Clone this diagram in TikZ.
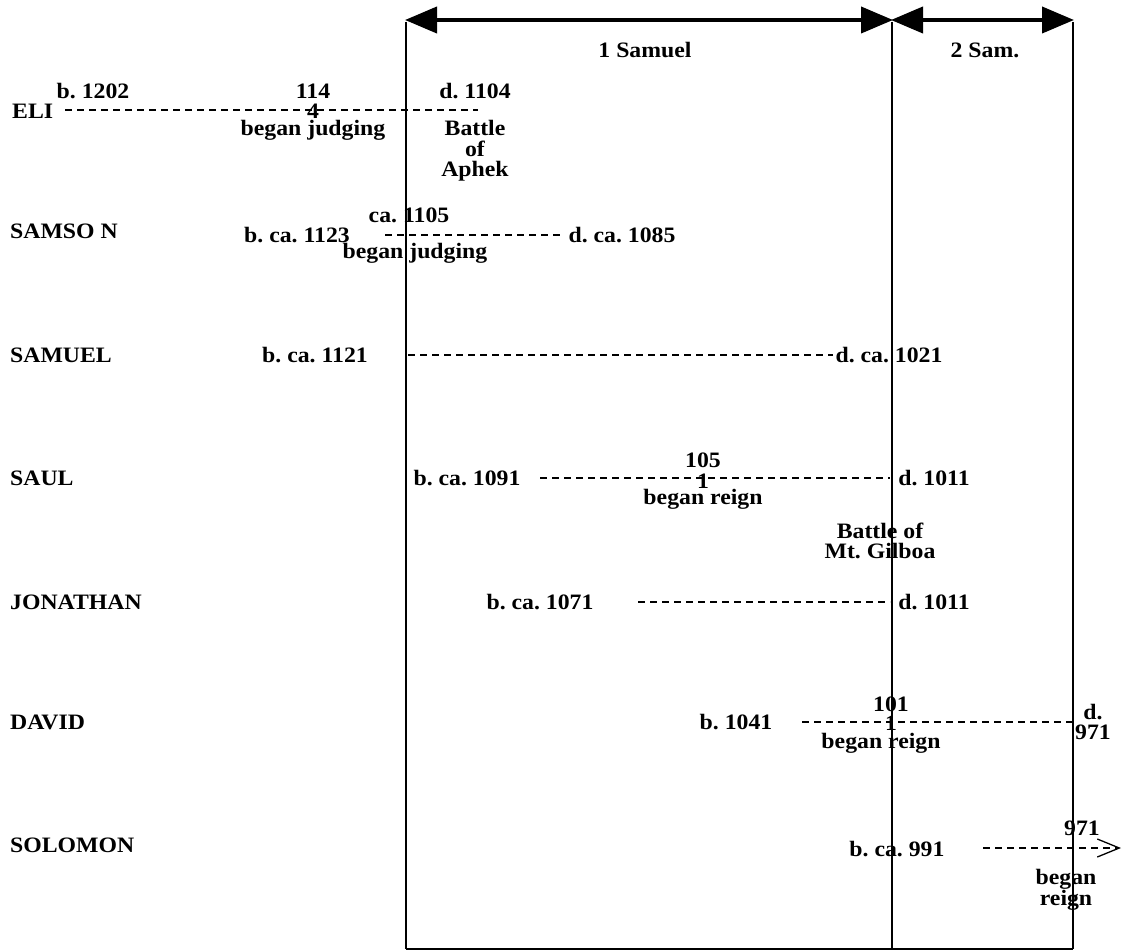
\documentclass[tikz,border=0pt]{standalone}
\usepackage{fontspec}
\setmainfont{Liberation Serif}[FakeStretch=1.08]
\usetikzlibrary{arrows.meta}
\frenchspacing
\begin{document}
\begin{tikzpicture}[x=1pt,y=-1pt,
  txt/.style={inner sep=0pt, font=\fontsize{22}{20.5}\selectfont\bfseries, align=center},
  pname/.style={txt, anchor=west},
  life/.style={dash pattern=on 7pt off 5pt, line width=1.3pt},
  frame/.style={line width=1.5pt},
  book/.style={line width=4pt, {Triangle[length=32pt,width=26pt]}-{Triangle[length=32pt,width=26pt]}, shorten <=-1pt, shorten >=-1pt}]
\useasboundingbox (0,0) rectangle (1122,952);

% frame
\coordinate (t1) at (406,22);
\coordinate (t2) at (892,22);
\coordinate (t3) at (1073,22);
\coordinate (b1) at (406,949);
\coordinate (b2) at (892,949);
\coordinate (b3) at (1073,949);
\draw[frame] (t1) -- (b1);
\draw[frame] (t2) -- (b2);
\draw[frame] (t3) -- (b3);
\draw[frame] (b1) -- (b3);
\coordinate (a1) at (406,20);
\coordinate (a2) at (892,20);
\coordinate (a3) at (1073,20);
\draw[book] (a1) -- (a2);
\draw[book] (a2) -- (a3);
\node[txt] (sam1) at (645,50) {1 Samuel};
\node[txt] (sam2) at (985,50) {2 Sam.};

% ELI
\node[pname] (eli) at (12,111) {ELI};
\coordinate (eliS) at (65,110);
\coordinate (eliE) at (478,110);
\draw[life] (eliS) -- (eliE);
\node[txt] (elib) at (93,91) {b. 1202};
\node[txt] (elij1) at (313,91) {114};
\node[txt] (elij2) at (313,111) {4};
\node[txt] (elij3) at (313,130) {began judging};
\node[txt] (elid) at (475,91) {d. 1104};
\node[txt] (eliaph) at (475,151) {Battle\\of\\Aphek};

% SAMSON
\node[pname] (samson) at (10,231) {SAMSO N};
\node[txt] (samsonb) at (297,235) {b. ca. 1123};
\node[txt] (samsonj1) at (409,215) {ca. 1105};
\node[txt] (samsonj2) at (415,253) {began judging};
\coordinate (samsonS) at (385,235);
\coordinate (samsonE) at (562,235);
\draw[life] (samsonS) -- (samsonE);
\node[txt] (samsond) at (622,235) {d. ca. 1085};

% SAMUEL
\node[pname] (samuel) at (10,355) {SAMUEL};
\node[txt] (samuelb) at (315,355) {b. ca. 1121};
\coordinate (samuelS) at (408,355);
\coordinate (samuelE) at (833,355);
\draw[life, line width=2pt] (samuelS) -- (samuelE);
\node[txt] (samueld) at (889,355) {d. ca. 1021};

% SAUL
\node[pname] (saul) at (10,478) {SAUL};
\node[txt] (saulb) at (467,478) {b. ca. 1091};
\coordinate (saulS) at (540,478);
\coordinate (saulE) at (890,478);
\draw[life] (saulS) -- (saulE);
\node[txt] (saulr1) at (703,460) {105};
\node[txt] (saulr2) at (703,481) {1};
\node[txt] (saulr3) at (703,499) {began reign};
\node[txt] (sauld) at (934,478) {d. 1011};
\node[txt] (saulg) at (880,541) {Battle of\\Mt. Gilboa};

% JONATHAN
\node[pname] (jon) at (10,602) {JONATHAN};
\node[txt] (jonb) at (540,602) {b. ca. 1071};
\coordinate (jonS) at (638,602);
\coordinate (jonE) at (890,602);
\draw[life] (jonS) -- (jonE);
\node[txt] (jond) at (934,602) {d. 1011};

% DAVID
\node[pname] (david) at (10,722) {DAVID};
\node[txt] (davidb) at (736,722) {b. 1041};
\coordinate (davidS) at (802,722);
\coordinate (davidE) at (1073,722);
\draw[life] (davidS) -- (davidE);
\node[txt] (davidr1) at (891,704) {101};
\node[txt] (davidr2) at (891,723) {1};
\node[txt] (davidr3) at (881,743) {began reign};
\node[txt] (davidd) at (1093,722) {d.\\971};

% SOLOMON
\node[pname] (solomon) at (10,845) {SOLOMON};
\node[txt] (solb) at (897,849) {b. ca. 991};
\coordinate (solS) at (983,848);
\coordinate (solE) at (1121,848);
\draw[life, -{Straight Barb[length=22pt,width=18pt,line width=1.3pt]}] (solS) -- (solE);
\node[txt] (solr1) at (1082,828) {971};
\node[txt] (solr2) at (1066,890) {began\\reign};
\end{tikzpicture}
\end{document}
